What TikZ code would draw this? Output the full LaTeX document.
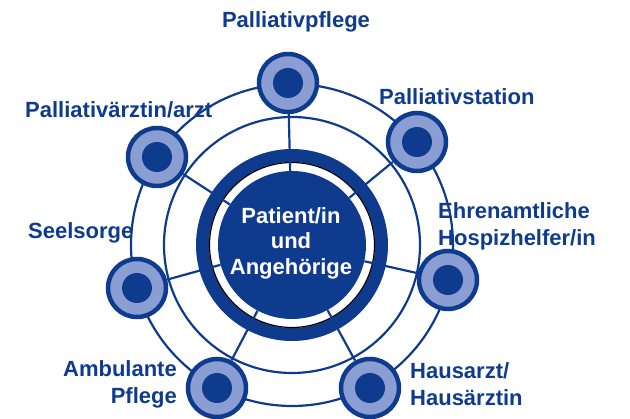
\documentclass[tikz,border=0pt]{standalone}
\usepackage{fontspec}
\setmainfont{Liberation Sans}
\definecolor{dblue}{HTML}{0F3B8F}
\definecolor{lblue}{HTML}{8B9ED3}
\begin{document}
\begin{tikzpicture}[x=1pt,y=-1pt,
  ring/.style={draw=dblue, line width=2.2pt},
  spoke/.style={draw=dblue, line width=2.2pt},
  sat/.style={circle, minimum size=58pt, inner sep=0pt, draw=dblue, line width=4.5pt, fill=lblue,
    path picture={\fill[dblue] (path picture bounding box.center) circle[radius=15pt];}},
  core/.style={circle, minimum size=148pt, inner sep=0pt, fill=dblue},
  lab/.style={inner sep=0pt, text=dblue, font=\fontsize{22}{27}\selectfont\bfseries},
  ctext/.style={inner sep=0pt, text=white, align=center, font=\fontsize{22}{25.5}\selectfont\bfseries}]
\useasboundingbox (0,0) rectangle (630,419);
\coordinate (c) at (292,245);
% rings
\draw[ring] (c) circle[radius=161pt];
\draw[ring] (c) circle[radius=128pt];
\fill[dblue, even odd rule] (c) circle[radius=96pt] (c) circle[radius=83pt];
\draw[black, line width=1.2pt] (c) circle[radius=82.5pt];
% core
\node[core] (core) at (c) {};
% satellites
\node[sat] (pf) at (288,83) {};
\node[sat] (ps) at (417,142) {};
\node[sat] (eh) at (448,280) {};
\node[sat] (ha) at (370,388) {};
\node[sat] (am) at (217,388) {};
\node[sat] (se) at (137,288) {};
\node[sat] (pa) at (157,157) {};
% spokes
\foreach \s in {pf,ps,eh,ha,am,se,pa}
  \draw[spoke] (\s) -- (core);
% texts
\node[ctext] (ct) at (291,243) {Patient/in\\und\\Angehörige};
\node[lab, anchor=base] (lpf) at (296,28) {Palliativpflege};
\node[lab, anchor=base west] (lps) at (379,105) {Palliativstation};
\node[lab, anchor=base west] (lpa) at (25,118) {Palliativärztin/arzt};
\node[lab, anchor=base west] (lse) at (28,239) {Seelsorge};
\node[lab, anchor=north west, align=left] (leh) at (438,202) {Ehrenamtliche\\Hospizhelfer/in};
\node[lab, anchor=north west, align=left] (lha) at (410,362) {Hausarzt/\\Hausärztin};
\node[lab, anchor=north east, align=right] (lam) at (177,360) {Ambulante\\Pflege};
\end{tikzpicture}
\end{document}
